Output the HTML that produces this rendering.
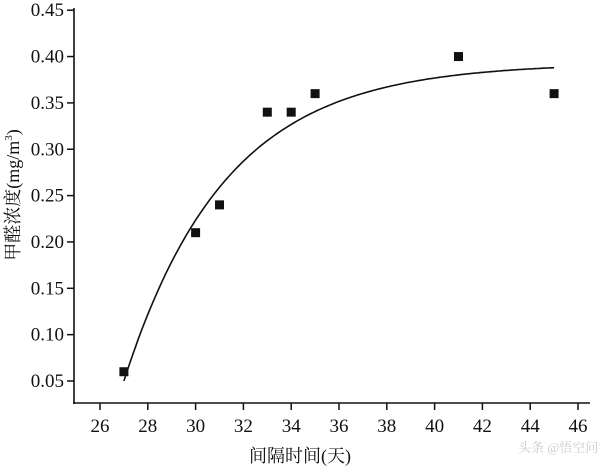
<!DOCTYPE html><html><head><meta charset="utf-8"><style>body{margin:0;background:#fff}svg{display:block}text{font-family:"Liberation Serif","Noto Serif CJK SC",serif;fill:#111}</style></head><body>
<svg id="s" width="600" height="469" xmlns="http://www.w3.org/2000/svg">
<g stroke="#111" stroke-width="1.6" fill="none">
<line x1="74" y1="8" x2="74" y2="404"/><line x1="73" y1="403" x2="590" y2="403"/>
</g>
<g id="g"></g>
<text x="300" y="462" font-size="18" text-anchor="middle">间隔时间(天)</text>
<text transform="translate(19,195) rotate(-90)" font-size="18" text-anchor="middle">甲醛浓度(mg/m<tspan font-size="11" dy="-7">3</tspan><tspan dy="7">)</tspan></text>
<text x="518" y="452" font-size="13" style="fill:#ccc">头条 @悟空问答</text>
</svg>
<script>
var g=document.getElementById('g'),h='';
function X(v){return 100+(v-26)*23.9}function Y(v){return 381-(v-0.05)*927}
for(var v=26;v<=46;v+=2){var x=X(v);h+='<line x1="'+x+'" y1="403" x2="'+x+'" y2="410" stroke="#111" stroke-width="1.5"/><text x="'+x+'" y="432" font-size="19" text-anchor="middle">'+v+'</text>'}
for(var i=1;i<=9;i++){var v=i*0.05,y=Y(v);h+='<line x1="67" y1="'+y+'" x2="74" y2="'+y+'" stroke="#111" stroke-width="1.5"/><text x="64" y="'+(y+6)+'" font-size="19" text-anchor="end">'+v.toFixed(2)+'</text>'}
var d='';for(var x=27;x<=45.001;x+=0.1){var yv=0.393-0.343*Math.exp(-0.235*(x-27));d+=(d?'L':'M')+X(x).toFixed(1)+' '+Y(yv).toFixed(1)}
h+='<path d="'+d+'" stroke="#111" stroke-width="1.6" fill="none"/>';
[[27,.06],[30,.21],[31,.24],[33,.34],[34,.34],[35,.36],[41,.40],[45,.36]].forEach(function(p){h+='<rect x="'+(X(p[0])-4.5)+'" y="'+(Y(p[1])-4.5)+'" width="9" height="9" fill="#111"/>'});
g.innerHTML=h;
</script></body></html>
